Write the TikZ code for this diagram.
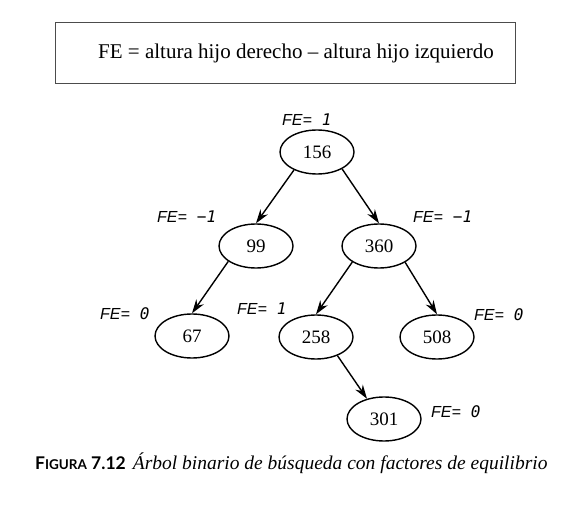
\documentclass[tikz,border=0pt]{standalone}
\usepackage{fontspec}
\setmainfont{Liberation Serif}
\newfontfamily\fesans{Liberation Sans}
\newfontfamily\femono{DejaVu Sans Mono}
\newfontfamily\capsans{Lato}
\usetikzlibrary{arrows.meta,positioning,shapes.geometric}

% balance factor label: FE= <value>
\newcommand{\fe}[1]{FE=\hspace{10pt}{\femono\itshape #1}}

\begin{document}
\begin{tikzpicture}[x=1pt, y=-1pt,
  key/.style={ellipse, draw, line width=1.4pt, minimum width=74pt, minimum height=44pt, inner sep=0pt, font=\fontsize{19}{22}\selectfont},
  fe/.style={anchor=west, inner sep=0pt, font=\fesans\itshape\fontsize{16}{18}\selectfont},
  frame/.style={draw=black!70, line width=1pt},
  arr/.style={-{Stealth[length=14pt, width=9pt]}, line width=1.4pt}
]
\useasboundingbox (0,0) rectangle (568,505);

% formula box
\draw[frame] (55,23) rectangle (515,84);
\node[font=\fontsize{21}{23}\selectfont] (formula) at (296,53) {FE = altura hijo derecho -- altura hijo izquierdo};

% tree
\node[key] (n156) at (317,152) {156};
\node[key] (n99) at (256,246) {99};
\node[key] (n360) at (379,246) {360};
\node[key] (n67) at (192,336) {67};
\node[key] (n258) at (316,337) {258};
\node[key] (n508) at (437,337) {508};
\node[key] (n301) at (384,419) {301};

\draw[arr] (n156.218) -- (n99.north);
\draw[arr] (n156.326) -- (n360.north);
\draw[arr] (n99.209) -- (n67.north);
\draw[arr] (n360.211) -- (n258.north);
\draw[arr] (n360.328) -- (n508.north);
\draw[arr] (n258.319) -- (n301.130);

% balance factors
\node[fe] (fe156) at (282,120) {\fe{1}};
\node[fe] (fe99) at (157,217) {\fe{−1}};
\node[fe] (fe360) at (413,217) {\fe{−1}};
\node[fe] (fe67) at (100,314) {\fe{0}};
\node[fe] (fe258) at (237,309) {\fe{1}};
\node[fe] (fe508) at (474,315) {\fe{0}};
\node[fe] (fe301) at (431,412) {\fe{0}};

% caption
\node[anchor=west, inner sep=0pt] (caption) at (35,463)
  {{\capsans\bfseries\fontsize{17.5}{19}\selectfont F{\fontsize{13.5}{15}\selectfont IGURA} 7.12}\hspace{7pt}{\itshape\fontsize{19.5}{21}\selectfont Árbol binario de búsqueda con factores de equilibrio}};
\end{tikzpicture}
\end{document}
